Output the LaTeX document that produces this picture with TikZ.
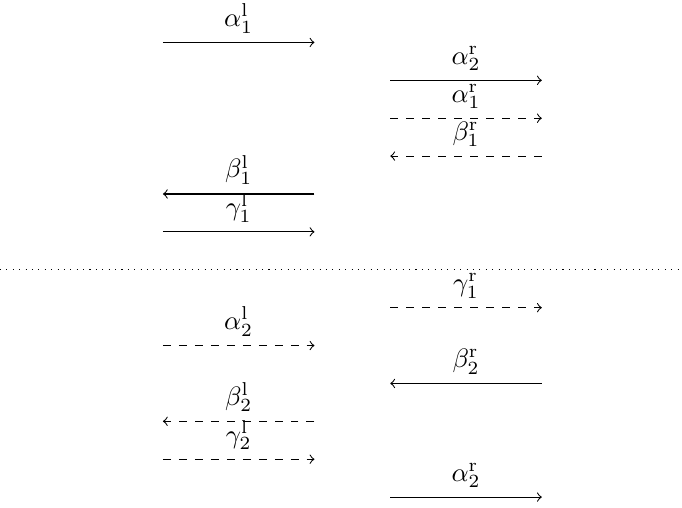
\documentclass[tikz,border=0pt]{standalone}
\begin{document}
\begin{tikzpicture}[lab/.style={above}]
	\useasboundingbox (-2.15,-3.14) rectangle (6.85,3.56);
	% separating line
	\coordinate (sepW) at (-2.15,0);
	\coordinate (sepE) at (6.85,0);
	\draw[dotted] (sepW)--(sepE);
	% left column, upper half
	\coordinate (aloneW) at (0,3); \coordinate (aloneE) at (2,3);
	\draw[->] (aloneW)-- node [lab]{$\alpha^{\mathrm{l}}_1$} (aloneE);
	\coordinate (bloneW) at (0,1); \coordinate (bloneE) at (2,1);
	\draw[->] (bloneE)-- node [lab]{$\beta^{\mathrm{l}}_1$} (bloneW);
	\coordinate (gloneW) at (0,.5); \coordinate (gloneE) at (2,.5);
	\draw[->] (gloneW)-- node [lab]{$\gamma^{\mathrm{l}}_1$} (gloneE);
	% right column, upper half
	\coordinate (artwoW) at (3,2.5); \coordinate (artwoE) at (5,2.5);
	\draw[->] (artwoW)-- node [lab]{$\alpha^{\mathrm{r}}_2$} (artwoE);
	\coordinate (aroneW) at (3,2); \coordinate (aroneE) at (5,2);
	\draw[->,dashed] (aroneW)-- node [lab]{$\alpha^{\mathrm{r}}_1$} (aroneE);
	\coordinate (broneW) at (3,1.5); \coordinate (broneE) at (5,1.5);
	\draw[->,dashed] (broneE)-- node [lab]{$\beta^{\mathrm{r}}_1$} (broneW);
	% left column, lower half
	\coordinate (altwoW) at (0,-1); \coordinate (altwoE) at (2,-1);
	\draw[->,dashed] (altwoW)-- node [lab]{$\alpha^{\mathrm{l}}_2$} (altwoE);
	\coordinate (bltwoW) at (0,-2); \coordinate (bltwoE) at (2,-2);
	\draw[->,dashed] (bltwoE)-- node [lab]{$\beta^{\mathrm{l}}_2$} (bltwoW);
	\coordinate (gltwoW) at (0,-2.5); \coordinate (gltwoE) at (2,-2.5);
	\draw[->,dashed] (gltwoW)-- node [lab]{$\gamma^{\mathrm{l}}_2$} (gltwoE);
	% right column, lower half
	\coordinate (groneW) at (3,-.5); \coordinate (groneE) at (5,-.5);
	\draw[->,dashed] (groneW)-- node [lab]{$\gamma^{\mathrm{r}}_1$} (groneE);
	\coordinate (brtwoW) at (3,-1.5); \coordinate (brtwoE) at (5,-1.5);
	\draw[->] (brtwoE)-- node [lab]{$\beta^{\mathrm{r}}_2$} (brtwoW);
	\coordinate (arlastW) at (3,-3); \coordinate (arlastE) at (5,-3);
	\draw[->] (arlastW)-- node [lab]{$\alpha^{\mathrm{r}}_2$} (arlastE);
\end{tikzpicture}
\end{document}
